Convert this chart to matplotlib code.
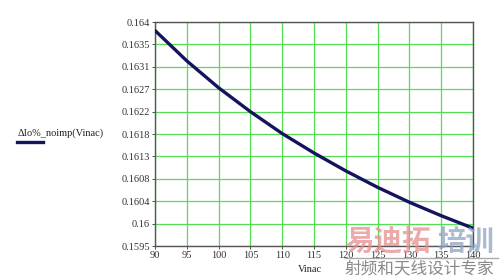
import numpy as np
import matplotlib.pyplot as plt
from matplotlib.lines import Line2D

# values
vinac = [90, 95, 100, 105, 110, 115, 120, 125, 130, 135, 140]
dio = [0.16383, 0.16322, 0.16268, 0.16220, 0.16176, 0.16137, 0.16101, 0.16068,
       0.16038, 0.16011, 0.15986]

x_ticks = [90, 95, 100, 105, 110, 115, 120, 125, 130, 135, 140]
y_ticks = [0.1595 + 0.00045 * k for k in range(11)]
y_labels = ['0.1595', '0.16', '0.1604', '0.1608', '0.1613', '0.1618',
            '0.1622', '0.1627', '0.1631', '0.1635', '0.164']

plt.rcParams['font.family'] = ['Liberation Serif', 'DejaVu Serif']

fig = plt.figure(figsize=(5.0, 2.79), dpi=100)
ax = fig.add_axes([0.31, 0.118, 0.636, 0.803])

ax.plot(vinac, dio, '-', c='#14145e', lw=2.4, solid_capstyle='round',
        solid_joinstyle='round', zorder=3)

ax.set_xlim(90, 140)
ax.set_ylim(0.1595, 0.164)
ax.set_xticks(x_ticks)
ax.set_yticks(y_ticks)
ax.set_yticklabels(y_labels)
ax.tick_params(labelsize=7.5, length=2, width=0.6, pad=1.5, colors='#333333')
ax.grid(color='#55dd55', linewidth=0.9)
for s in ax.spines.values():
    s.set_color('#555555')
    s.set_linewidth(1.0)

# y-axis label with its legend line
fig.text(0.036, 0.523, u'\u0394Io%_noimp(Vinac)', fontsize=7.5, color='#222222',
         va='center', ha='left')
fig.add_artist(Line2D([0.034, 0.086], [0.49, 0.49], color='#14145e', lw=2.4))

fig.text(0.62, 0.035, 'Vinac', fontsize=7.5, color='#222222', ha='center', va='center')

# watermark
cjk = ['Noto Sans CJK SC', 'DejaVu Sans']
fig.text(0.69, 0.135, u'易迪拓', fontsize=20.5, color='#e58f8f', alpha=0.75,
         family=cjk, va='center', ha='left', fontweight='bold')
fig.text(0.875, 0.135, u'培训', fontsize=20.5, color='#8fa2c2', alpha=0.75,
         family=cjk, va='center', ha='left', fontweight='bold')
fig.add_artist(Line2D([0.69, 0.995], [0.075, 0.075], color='#aaaaaa', lw=1))
fig.text(0.69, 0.035, u'射频和天线设计专家', fontsize=12, color='#8a8a8a',
         family=cjk, va='center', ha='left')

plt.savefig('out.png', dpi=100)
